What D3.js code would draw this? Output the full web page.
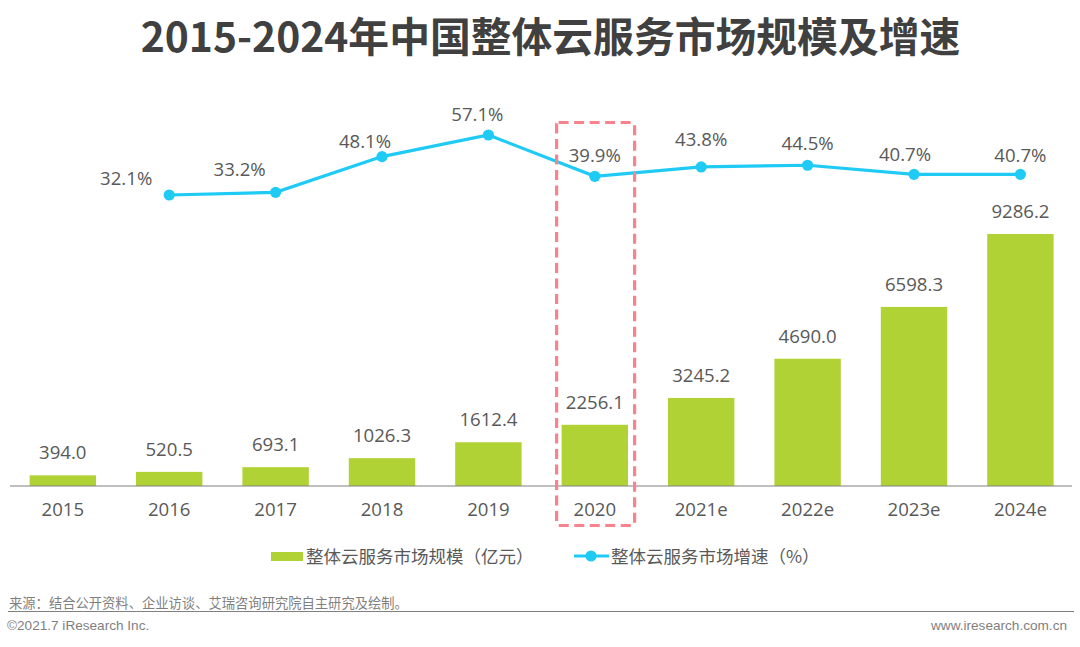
<!DOCTYPE html>
<html>
<head>
  <meta charset="utf-8">
  <title>2015-2024年中国整体云服务市场规模及增速</title>
  <script src="https://cdn.jsdelivr.net/npm/d3@7"></script>
  <style>
    html, body { margin: 0; padding: 0; background: #fff; }
    svg { display: block; }
    text { font-family: "Open Sans", "Noto Sans CJK SC", sans-serif; fill: #595959; }
    .cn { font-family: "Noto Sans CJK SC", sans-serif; }
    .latin { font-family: "Liberation Sans", Arial, sans-serif; fill: #7f7f7f; }
  </style>
</head>
<body>
  <div id="chart"></div>
  <script>
    // values
    var years = ["2015", "2016", "2017", "2018", "2019", "2020", "2021e", "2022e", "2023e", "2024e"];
    var marketSize = [394.0, 520.5, 693.1, 1026.3, 1612.4, 2256.1, 3245.2, 4690.0, 6598.3, 9286.2];
    var growthYears = ["2016", "2017", "2018", "2019", "2020", "2021e", "2022e", "2023e", "2024e"];
    var growthRate = [32.1, 33.2, 48.1, 57.1, 39.9, 43.8, 44.5, 40.7, 40.7];

    var titleText = "2015-2024年中国整体云服务市场规模及增速";
    var barLegend = "整体云服务市场规模（亿元）";
    var lineLegend = "整体云服务市场增速（%）";
    var sourceText = "来源：结合公开资料、企业访谈、艾瑞咨询研究院自主研究及绘制。";
    var copyrightText = "©2021.7 iResearch Inc.";
    var siteText = "www.iresearch.com.cn";

    // the growth labels are hand placed in the original, so dx/dy per point
    var growthLabelOffset = [[-43, -10], [-36, -16], [-17, -9], [-11, -14], [0, -14], [0, -21], [0, -15], [-9, -13], [0, -12]];

    var green = "#b0d235", blue = "#1fcbf5", pink = "#f9838c";

    var svg = d3.select("#chart").append("svg")
      .attr("width", 1080)
      .attr("height", 647);

    var x = d3.scaleBand().domain(years).range([9.6, 1073.6]).paddingInner(0.376).paddingOuter(0.188);
    var ySize = d3.scaleLinear().domain([0, 9286.2]).range([486, 234]);
    var yRate = d3.scaleLinear().domain([32.1, 57.1]).range([195, 135]);
    var cx = function(d) { return x(d) + x.bandwidth() / 2; };

    svg.append("text")
      .attr("class", "cn")
      .attr("x", 550.5).attr("y", 52)
      .attr("text-anchor", "middle")
      .attr("font-size", 40.8)
      .attr("font-weight", 700)
      .style("fill", "#404040")
      .text(titleText);

    // bars
    svg.selectAll("rect.bar").data(years).enter().append("rect")
      .attr("class", "bar")
      .attr("x", function(d) { return x(d); })
      .attr("width", x.bandwidth())
      .attr("y", function(d, i) { return ySize(marketSize[i]); })
      .attr("height", function(d, i) { return 486 - ySize(marketSize[i]); })
      .attr("fill", green);

    svg.selectAll("text.size").data(years).enter().append("text")
      .attr("class", "size")
      .attr("x", cx)
      .attr("y", function(d, i) { return ySize(marketSize[i]) - 16; })
      .attr("text-anchor", "middle")
      .attr("font-size", 18.6)
      .text(function(d, i) { return marketSize[i].toFixed(1); });

    // axis
    var axis = svg.append("g")
      .attr("transform", "translate(0,486)")
      .call(d3.axisBottom(x).tickSize(0).tickPadding(17));
    axis.select(".domain").remove();
    axis.selectAll("text")
      .attr("font-size", 18.6)
      .style("font-family", null);
    axis.append("line")
      .attr("x1", 10).attr("x2", 1072)
      .attr("stroke", "#808080").attr("stroke-width", 1);

    // line
    var line = d3.line()
      .x(function(d) { return cx(d); })
      .y(function(d, i) { return yRate(growthRate[i]); });
    svg.append("path")
      .datum(growthYears)
      .attr("d", line)
      .attr("fill", "none")
      .attr("stroke", blue)
      .attr("stroke-width", 3.2);

    svg.selectAll("circle.pt").data(growthYears).enter().append("circle")
      .attr("class", "pt")
      .attr("cx", cx)
      .attr("cy", function(d, i) { return yRate(growthRate[i]); })
      .attr("r", 5.6)
      .attr("fill", blue);

    svg.selectAll("text.rate").data(growthYears).enter().append("text")
      .attr("class", "rate")
      .attr("x", function(d, i) { return cx(d) + growthLabelOffset[i][0]; })
      .attr("y", function(d, i) { return yRate(growthRate[i]) + growthLabelOffset[i][1]; })
      .attr("text-anchor", "middle")
      .attr("font-size", 18.6)
      .text(function(d, i) { return growthRate[i].toFixed(1) + "%"; });

    // dashed box round 2020
    svg.append("rect")
      .attr("x", x("2020") - 5).attr("y", 122.5)
      .attr("width", 78).attr("height", 403)
      .attr("rx", 2)
      .attr("fill", "none")
      .attr("stroke", pink)
      .attr("stroke-width", 3.2)
      .attr("stroke-dasharray", "10 5.5");

    // legend
    svg.append("rect")
      .attr("x", 271).attr("y", 552)
      .attr("width", 32).attr("height", 9)
      .attr("fill", green);
    svg.append("text")
      .attr("class", "cn")
      .attr("x", 306).attr("y", 563)
      .attr("font-size", 17.5)
      .text(barLegend);

    svg.append("line")
      .attr("x1", 574).attr("x2", 609)
      .attr("y1", 556).attr("y2", 556)
      .attr("stroke", blue).attr("stroke-width", 3);
    svg.append("circle")
      .attr("cx", 591).attr("cy", 556).attr("r", 5.6)
      .attr("fill", blue);
    svg.append("text")
      .attr("class", "cn")
      .attr("x", 611).attr("y", 563)
      .attr("font-size", 17.5)
      .text(lineLegend);

    // footer
    svg.append("text")
      .attr("class", "cn")
      .attr("x", 9).attr("y", 608)
      .attr("font-size", 13.3)
      .style("fill", "#7f7f7f")
      .text(sourceText);
    svg.append("line")
      .attr("x1", 8).attr("x2", 1074)
      .attr("y1", 611.5).attr("y2", 611.5)
      .attr("stroke", "#808080").attr("stroke-width", 1.2);
    svg.append("text")
      .attr("class", "latin")
      .attr("x", 7).attr("y", 630)
      .attr("font-size", 13.6)
      .text(copyrightText);
    svg.append("text")
      .attr("class", "latin")
      .attr("x", 1067).attr("y", 630)
      .attr("text-anchor", "end")
      .attr("font-size", 13.6)
      .text(siteText);
  </script>
</body>
</html>
